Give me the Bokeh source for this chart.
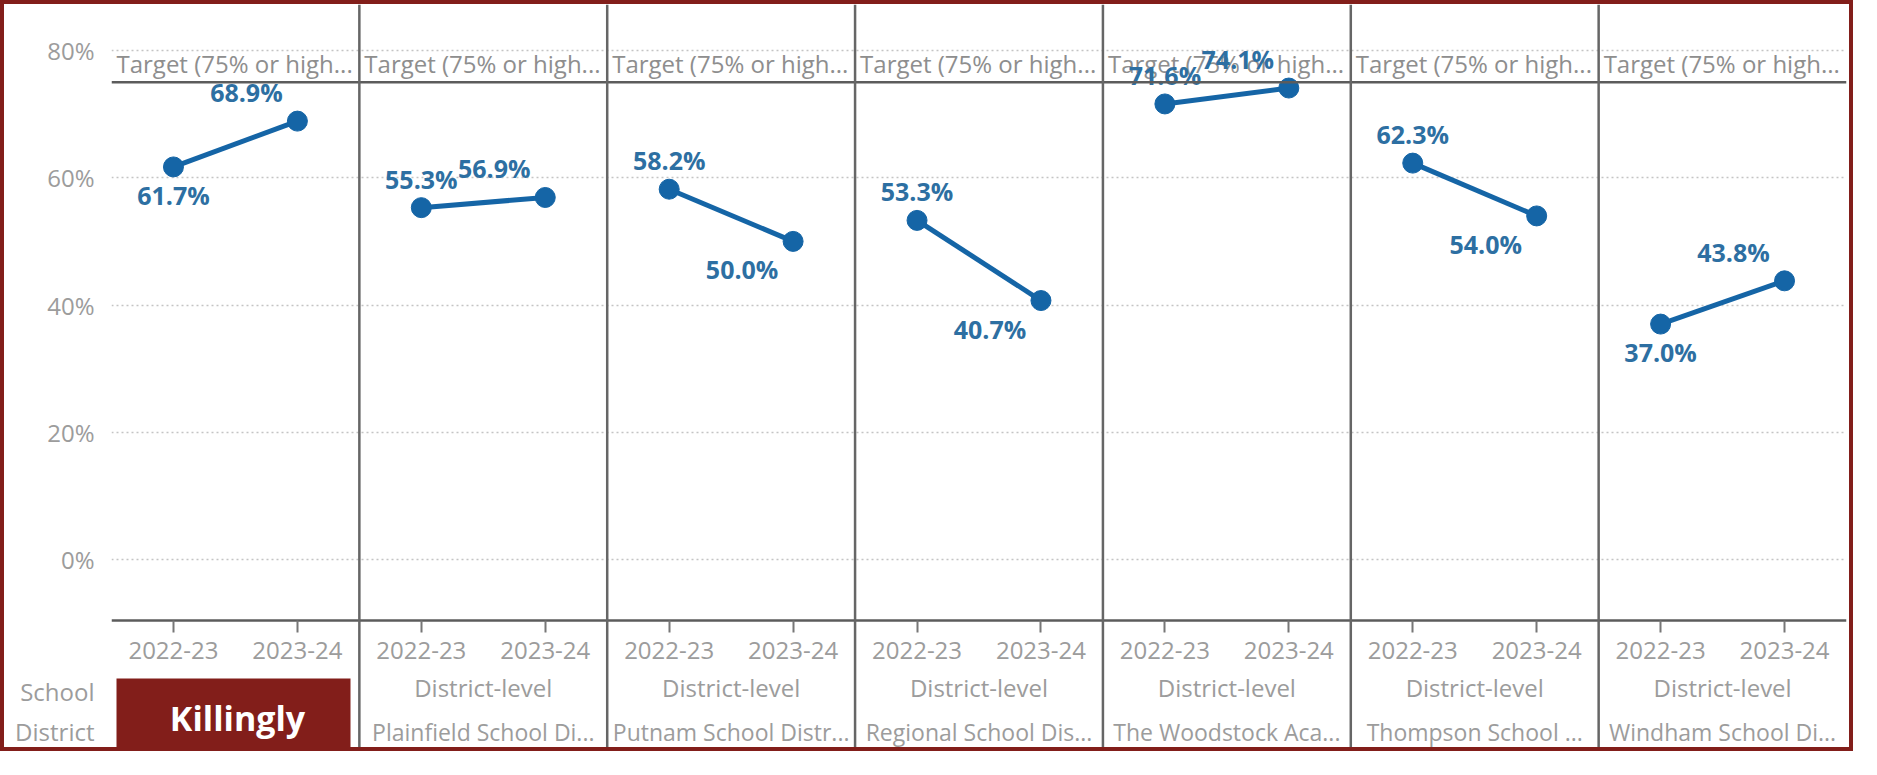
from bokeh.plotting import figure
from bokeh.models import (FactorRange, Range1d, ColumnDataSource, Span, Label,
                          BoxAnnotation, FixedTicker)
from bokeh.core.properties import value
from bokeh.embed import file_html
from bokeh.resources import INLINE

# ---------------- data ----------------
districts = ["Killingly School Di...", "Plainfield School Di...", "Putnam School Distr...",
             "Regional School Dis...", "The Woodstock Aca...", "Thompson School ...",
             "Windham School Di..."]
level = "District-level"
years = ["2022-23", "2023-24"]
v_2022_23 = [61.7, 55.3, 58.2, 53.3, 71.6, 62.3, 37.0]
v_2023_24 = [68.9, 56.9, 50.0, 40.7, 74.1, 54.0, 43.8]
target_value = 75
target_text = "Target (75% or high..."
y_ticks = [0, 20, 40, 60, 80]
highlight = "Killingly"
row_header = ["School", "District"]

# label placement (style): where each value label sits relative to its point
place_first = ["below", "above", "above", "above", "above", "above", "below"]
place_second = ["above", "above", "below", "below", "above", "below", "above"]

# ---------------- style constants ----------------
FONT = "Open Sans"
BLUE = "#1565a6"
LBLUE = "#2d6fa2"
GRAY_TXT = "#9c9c9c"
DARK = "#5c5c5c"
RED = "#821e1a"

W, H = 1853, 751            # canvas (a 4px red border is added around it)
LEFT, RIGHT = 107, 11       # frame spans the full height
frame_w = W - LEFT - RIGHT
n = len(districts)
px_per_unit = frame_w / (2 * n)
AXIS_CY = 616               # canvas y of the category axis line
ZERO_CY, EIGHTY_CY = 555, 46
px_per_pct = (ZERO_CY - EIGHTY_CY) / 80.0

def cy_to_data(cy):
    return (ZERO_CY - cy) / px_per_pct

def cx_to_data(cx):
    return (cx - LEFT) / px_per_unit

y_top, y_bottom = cy_to_data(0), cy_to_data(H)
axis_y = cy_to_data(AXIS_CY)
header_y = [cy_to_data(687), cy_to_data(729)]

factors = [(d, level, yr) for d in districts for yr in years]
x_range = FactorRange(factors=factors, factor_padding=0, subgroup_padding=0,
                      group_padding=0, range_padding=0)

p = figure(width=W, height=H, x_range=x_range, y_range=Range1d(y_bottom, y_top),
           output_backend="svg", toolbar_location=None,
           min_border_left=LEFT, min_border_right=RIGHT,
           min_border_top=0, min_border_bottom=0,
           styles={"border": "4px solid " + RED})
p.outline_line_color = None
p.background_fill_color = "white"
p.border_fill_color = "white"

# grid
p.xgrid.grid_line_color = None
p.ygrid.ticker = FixedTicker(ticks=y_ticks)
p.ygrid.grid_line_color = "#c4c4c4"
p.ygrid.grid_line_dash = "2 3"
p.ygrid.grid_line_width = 1.5

# y axis (percent ticks + the row header of the category labels)
ya = p.yaxis[0]
ya.ticker = FixedTicker(ticks=y_ticks + header_y)
overrides = {t: f"{t}%" for t in y_ticks}
overrides.update({hy: txt for hy, txt in zip(header_y, row_header)})
ya.major_label_overrides = overrides
ya.axis_line_color = None
ya.major_tick_line_color = None
ya.minor_tick_line_color = None
ya.major_label_standoff = 11
ya.major_label_text_font = FONT
ya.major_label_text_font_size = "24px"
ya.major_label_text_color = GRAY_TXT

# x axis, drawn inside the frame so the dividers and the highlight can cross it
xa = p.xaxis[0]
xa.fixed_location = axis_y
xa.axis_line_color = DARK
xa.axis_line_width = 2.5
xa.major_tick_line_color = "#777777"
xa.major_tick_line_width = 2
xa.major_tick_out = 12
xa.major_tick_in = 0
xa.major_label_standoff = 9
xa.separator_line_color = None
for pre in ["major_label", "subgroup", "group"]:
    setattr(xa, pre + "_text_font", FONT)
    setattr(xa, pre + "_text_color", GRAY_TXT)
    setattr(xa, pre + "_text_font_style", "normal")
xa.major_label_text_font_size = "24px"
xa.subgroup_text_font_size = "24px"
xa.group_text_font_size = "23px"

# target line and labels
p.add_layout(Span(location=target_value, dimension="width", line_color=DARK,
                  line_width=2.5))
tsrc = ColumnDataSource(dict(x=[(d, level, years[0]) for d in districts],
                             y=[target_value] * n, t=[target_text] * n))
p.text(x="x", y="y", text="t", source=tsrc, x_offset=-px_per_unit * 0.5 + 5,
       y_offset=-19, text_align="left", text_baseline="middle",
       text_font=value(FONT), text_font_size="24px", text_color="#8e8e8e")

# panel dividers
for i in range(1, n):
    p.add_layout(Span(location=2 * i, dimension="height", line_color="#666666",
                      line_width=2.5))

# lines and points
x_first = [(d, level, years[0]) for d in districts]
x_second = [(d, level, years[1]) for d in districts]
seg = ColumnDataSource(dict(x0=x_first, y0=v_2022_23, x1=x_second, y1=v_2023_24))
p.segment(x0="x0", y0="y0", x1="x1", y1="y1", source=seg, line_color=BLUE,
          line_width=5)
pts = ColumnDataSource(dict(x=x_first + x_second, y=v_2022_23 + v_2023_24))
p.scatter(x="x", y="y", source=pts, size=20, fill_color=BLUE, line_color=BLUE)

# value labels
off = {"above": -29, "below": 28}
lab = ColumnDataSource(dict(
    x=x_first + x_second,
    y=v_2022_23 + v_2023_24,
    t=[f"{v:.1f}%" for v in v_2022_23 + v_2023_24],
    xo=[0] * n + [-51] * n,
    yo=[off[s] for s in place_first] + [off[s] for s in place_second],
))
p.text(x="x", y="y", text="t", source=lab, x_offset="xo", y_offset="yo",
       text_align="center", text_baseline="middle", text_font=value(FONT),
       text_font_size="25px", text_font_style="bold", text_color=LBLUE)

# highlight box over the first district's labels
p.add_layout(BoxAnnotation(left=cx_to_data(112), right=cx_to_data(346),
                           top=cy_to_data(674), bottom=y_bottom,
                           fill_color=RED, fill_alpha=1, line_color=None,
                           level="overlay"))
p.add_layout(Label(x=cx_to_data(233), y=cy_to_data(713), text=highlight,
                   text_align="center", text_baseline="middle",
                   text_font=FONT, text_font_size="34px",
                   text_font_style="bold", text_color="white",
                   level="overlay"))

open("out.html", "w").write(file_html(p, INLINE))
